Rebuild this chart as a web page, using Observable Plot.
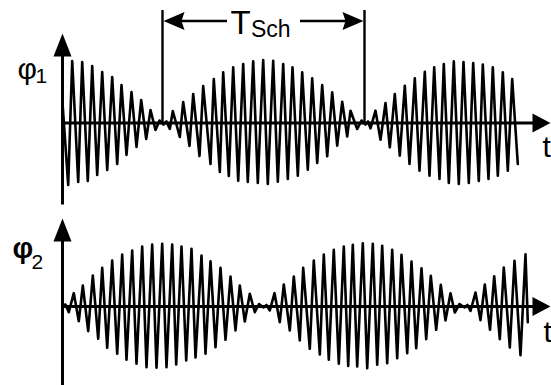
<!DOCTYPE html>
<html>
<head>
<meta charset="utf-8">
<script src="https://cdn.jsdelivr.net/npm/d3@7"></script>
<script src="https://cdn.jsdelivr.net/npm/@observablehq/plot@0.6"></script>
<style>
  html, body { margin: 0; padding: 0; background: #fff; }
  #chart svg { display: block; }
</style>
</head>
<body>
<div id="chart"></div>
<script>
// ---- data: extrema of the two pendulum angles, [time (ms), angle (arb. units)] ----
const phi1Extrema = [
  [0,20],[5.7,-62],[9.7,62],[15.7,-59],[19.7,61],[25.3,-58],[29.7,57],[34.7,-52],[39.7,51],
  [44.7,-47],[49.7,46],[54.7,-41],[59,38],[64,-32],[69,31],[74,-24],[78.7,23],[83.7,-16],
  [88,13],[93,-7],[97,2.5],[101,-1.5],[104,1.5],[107.3,-6],[110.3,12],[117.3,-14],[120.7,21],
  [127,-23],[130.7,29],[137,-33],[140.7,37],[148,-41],[151.3,44],[157.3,-49],[160.7,50.7],
  [166.3,-53],[170.7,55.7],[175.7,-57.7],[180.7,59],[185.3,-59],[190.7,61.7],[195.3,-60],
  [200.7,63],[205.3,-61],[210.7,62.3],[215.3,-58.7],[220.7,59],[225.3,-56],[230,55.7],
  [235.3,-52.7],[239.7,50.7],[245.3,-46.7],[249.7,44.7],[254.7,-40],[259.7,38],[264.7,-33.3],
  [269.7,30.7],[274.7,-22.7],[279.7,21.3],[284.7,-13.5],[288,12.3],[294.7,-6],[299,2.5],
  [303,-1.5],[305.5,1.5],[308,-5.3],[313,12.3],[318,-16.7],[323,20],[327.3,-24.3],[332.3,29],
  [337.3,-32.7],[342.3,37.3],[347,-41],[352.3,44.7],[357,-47.7],[362.3,51.3],[367,-52.7],
  [371.7,55.7],[377,-56],[381.3,59],[386.3,-60],[391.3,61.7],[396.3,-61],[401,61],[406.3,-60],
  [410.7,60],[416.3,-58],[420.3,58.5],[426,-56],[430.3,55.7],[435.3,-52.7],[440.3,50.7],
  [445.3,-47.7],[449.7,44],[455.3,-41]
];
const phi2Extrema = [
  [0,1],[3,2],[6.3,-5.7],[11.3,13.3],[16.3,-14.7],[20.3,21],[25.7,-24.7],[30.3,31],[35.7,-32.3],
  [39.7,38.7],[44.7,-41.3],[49.7,46],[54.7,-47.3],[59.7,52],[64,-53.3],[69.7,56],[74,-57.3],
  [79.7,60],[84,-60.7],[89.7,62],[94,-61.3],[99.7,62.7],[104,-60.7],[109.7,62],[113.7,-58],
  [119,60],[123.7,-54],[129,57.7],[133,-51],[139,51],[143,-47.3],[148,45.3],[153,-40.7],
  [158,38.7],[163,-33.3],[168,30],[173,-24],[177.3,21],[182.3,-15],[187.3,12.7],[192.3,-5.7],
  [196.5,2.5],[201,-1],[204,1.5],[207.3,-4],[212,13.3],[217.3,-15.7],[221.3,22],[227.3,-24],
  [231.3,30],[237.3,-34],[240.7,38.7],[247.3,-42.3],[251.3,46],[257.3,-48],[261.3,52],
  [266.3,-53.3],[271.3,56.7],[276.3,-57.3],[281.3,60],[285.7,-59.5],[290.3,61.7],[294.7,-60],
  [300.3,63.3],[304.7,-61.7],[310.3,62.7],[314.7,-58.3],[319.7,60.7],[324.7,-56.7],[329.7,56.7],
  [334.7,-51.7],[339,51.7],[344.7,-46.7],[349,45],[353.7,-41.7],[359,38.3],[363.7,-32.7],
  [368.3,30.7],[373.7,-23.3],[378.3,21.7],[383,-14],[388,13.3],[392.3,-6],[397,2.5],[402,-1],
  [405,1.5],[408,-4.5],[413,14],[418,-13.7],[422.3,22],[427.5,-23.3],[431.7,30.3],[437.3,-32.7],
  [441.3,39],[447.3,-41],[452,45.7],[458,-48.7],[463,52.3],[465.3,-15.7]
];
// beat period markers (start and end time, ms)
const beatMarks = [100, 302];
// label texts
const yLabels = ["φ", "1", "φ", "2"];
const beatLabel = ["T", "Sch"];
const xLabel = "t";

// ---- drawing ----
const FONT = "'Liberation Sans', Arial, Helvetica, sans-serif";
const toRows = a => a.map(([t, v]) => ({t, v}));
function head(len, wid, notch = 0) {
  return {draw(ctx) {
    ctx.moveTo(0, 0);
    ctx.lineTo(wid / 2, len);
    ctx.lineTo(0, len - notch);
    ctx.lineTo(-wid / 2, len);
    ctx.closePath();
  }};
}
const xScale = {domain: [0, 489], range: [62, 551], axis: null};
const axisStyle = {stroke: "black", strokeWidth: 3};

function panel({data, height, yDomain, yRange, yTop, yBottom, xArrowBase, sym, sub, symWeight, symSize, symPos, subPos, tPos, extra = []}) {
  return Plot.plot({
    width: 551,
    height,
    x: xScale,
    y: {domain: yDomain, range: yRange, axis: null},
    style: {fontFamily: FONT, background: "white", overflow: "visible"},
    marks: [
      Plot.ruleY([0], {x1: 0, x2: xArrowBase, ...axisStyle}),
      Plot.ruleX([0], {y1: yBottom, y2: yTop - 20, ...axisStyle}),
      Plot.dot([{t: 0, v: yTop}], {x: "t", y: "v", symbol: head(23, 18), fill: "black", stroke: "none", r: 5}),
      Plot.dot([{t: 488, v: 0}], {x: "t", y: "v", symbol: head(18, 19), fill: "black", stroke: "none", r: 5, rotate: 90}),
      Plot.line(toRows(data), {x: "t", y: "v", stroke: "black", strokeWidth: 2.6}),
      Plot.text([sym], {x: () => symPos[0], y: () => symPos[1], text: d => d, fontSize: symSize, fontWeight: symWeight, textAnchor: "start", lineAnchor: "bottom", fill: "black"}),
      Plot.text([sub], {x: () => subPos[0], y: () => subPos[1], text: d => d, fontSize: 21, textAnchor: "start", lineAnchor: "bottom", fill: "black"}),
      Plot.text([xLabel], {x: () => tPos[0], y: () => tPos[1], text: d => d, fontSize: 30, textAnchor: "start", lineAnchor: "bottom", fill: "black"}),
      ...extra
    ]
  });
}

const beatY = 102;
const beatExtra = [
  Plot.ruleX(beatMarks, {y1: 0, y2: 112.5, stroke: "black", strokeWidth: 2.4}),
  Plot.ruleY([beatY], {x1: beatMarks[0] + 15, x2: 165, stroke: "black", strokeWidth: 2.4}),
  Plot.ruleY([beatY], {x1: 238, x2: beatMarks[1] - 15, stroke: "black", strokeWidth: 2.4}),
  Plot.dot([{t: beatMarks[0] + 1, v: beatY}], {x: "t", y: "v", symbol: head(21, 18, 3), fill: "black", stroke: "none", r: 5, rotate: -90}),
  Plot.dot([{t: beatMarks[1] - 1, v: beatY}], {x: "t", y: "v", symbol: head(21, 18, 3), fill: "black", stroke: "none", r: 5, rotate: 90}),
  Plot.text([beatLabel[0]], {x: () => 168, y: () => 89.5, text: d => d, fontSize: 33, textAnchor: "start", lineAnchor: "bottom", fill: "black"}),
  Plot.text([beatLabel[1]], {x: () => 188.5, y: () => 86.5, text: d => d, fontSize: 23, textAnchor: "start", lineAnchor: "bottom", fill: "black"})
];

const topPanel = panel({
  data: phi1Extrema, height: 205,
  yDomain: [-80, 89.5], yRange: [202.5, 33], yTop: 89.5, yBottom: -82,
  xArrowBase: 472,
  sym: yLabels[0], sub: yLabels[1], symWeight: "normal", symSize: 30,
  symPos: [-45, 44.5], subPos: [-27, 40.5], tPos: [480, -33.5],
  extra: beatExtra
});
const bottomPanel = panel({
  data: phi2Extrema, height: 180,
  yDomain: [-79, 88], yRange: [180, 13], yTop: 88, yBottom: -82,
  xArrowBase: 472,
  sym: yLabels[2], sub: yLabels[3], symWeight: "bold", symSize: 29,
  symPos: [-50, 49], subPos: [-31, 38], tPos: [481, -35]
});
document.getElementById("chart").append(topPanel, bottomPanel);
</script>
</body>
</html>
